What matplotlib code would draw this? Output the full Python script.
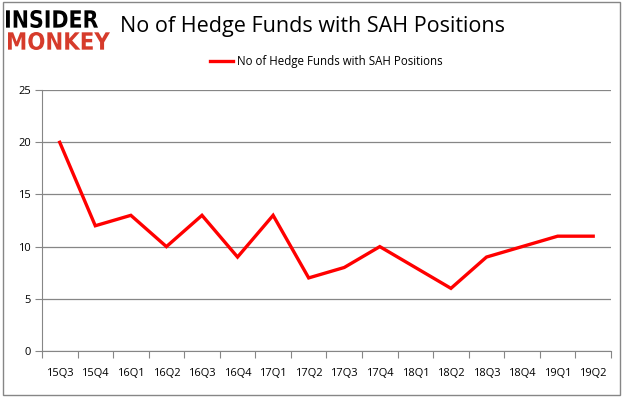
import numpy as np
import matplotlib
matplotlib.use('Agg')
import matplotlib.pyplot as plt
from matplotlib.patches import Rectangle, PathPatch
from matplotlib.textpath import TextPath
from matplotlib.font_manager import FontProperties
from matplotlib.transforms import Affine2D, IdentityTransform

# data
quarters = ['15Q3', '15Q4', '16Q1', '16Q2', '16Q3', '16Q4', '17Q1', '17Q2',
            '17Q3', '17Q4', '18Q1', '18Q2', '18Q3', '18Q4', '19Q1', '19Q2']
hedge_funds = [20, 12, 13, 10, 13, 9, 13, 7, 8, 10, 8, 6, 9, 10, 11, 11]
series_name = 'No of Hedge Funds with SAH Positions'
y_ticks = [0, 5, 10, 15, 20, 25]

plt.rcParams['font.family'] = ['Open Sans', 'DejaVu Sans']

W, H = 626, 397
fig = plt.figure(figsize=(W / 100, H / 100), dpi=100)
ax = fig.add_axes([0.067, 0.116, 0.909, 0.657])

x = np.arange(len(quarters)) + 0.5
ax.plot(x, hedge_funds, color='#ff0000', lw=2.4, solid_joinstyle='miter',
        label=series_name)

ax.set_xlim(0, len(quarters))
ax.set_ylim(0, 25)
ax.set_yticks(y_ticks)
ax.set_yticklabels([str(v) for v in y_ticks], fontsize=8)
ax.yaxis.grid(True, color='#868686', lw=0.9)
ax.set_axisbelow(True)

# category ticks sit between the labels, like Excel
ax.set_xticks(np.arange(len(quarters) + 1))
ax.set_xticklabels([])
ax.set_xticks(x, minor=True)
ax.set_xticklabels(quarters, minor=True, fontsize=8)
ax.tick_params(axis='x', which='major', length=5, color='#868686', direction='out')
ax.tick_params(axis='x', which='minor', length=0, pad=12)
ax.tick_params(axis='y', length=5, color='#868686', pad=3)

for side in ['top', 'right']:
    ax.spines[side].set_visible(False)
for side in ['left', 'bottom']:
    ax.spines[side].set_color('#868686')

fig.text(0.5, 0.932, series_name, ha='center', va='center', fontsize=15.5)
leg = ax.legend(loc='center', bbox_to_anchor=(0.5, 1.108), frameon=False,
                fontsize=8.3, handlelength=2.0, handletextpad=0.3)


# logo, stretched into the box it takes in the picture (pixels, from top-left)
def logo_word(word, left, top, right, bottom, color):
    fp = FontProperties(family='DejaVu Sans', weight='bold')
    path = TextPath((0, 0), word, size=20, prop=fp)
    ext = path.get_extents()
    sx = (right - left) / ext.width
    sy = (bottom - top) / ext.height
    tr = Affine2D().translate(-ext.x0, -ext.y0).scale(sx, sy).translate(left, H - bottom)
    fig.patches.append(PathPatch(tr.transform_path(path), transform=IdentityTransform(),
                                 facecolor=color, edgecolor='none'))


logo_word('INSIDER', 6, 10, 98, 28, 'black')
logo_word('MONKEY', 8, 32, 110, 50, '#d63b2b')

# outer frame
fig.patches.append(Rectangle((0.005, 0.005), 0.985, 0.99, transform=fig.transFigure,
                             fill=False, edgecolor='#868686', lw=1))

fig.savefig('out.png', dpi=100)
